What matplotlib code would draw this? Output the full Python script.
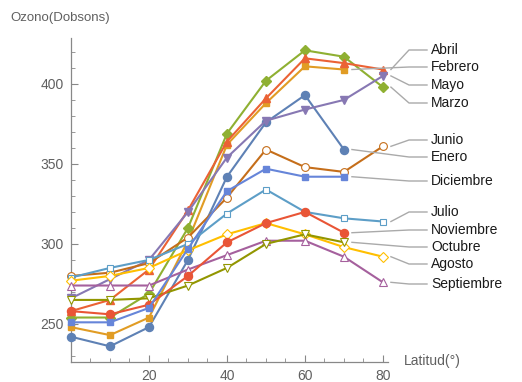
import matplotlib
matplotlib.use("Agg")
import matplotlib.pyplot as plt
from matplotlib.lines import Line2D

plt.rcParams['font.family'] = ['Liberation Sans', 'DejaVu Sans']

latitudes = [0, 10, 20, 30, 40, 50, 60, 70, 80]

months = ["Enero", "Febrero", "Marzo", "Abril", "Mayo", "Junio", "Julio",
          "Agosto", "Septiembre", "Octubre", "Noviembre", "Diciembre"]

enero = [242, 236, 248, 290, 342, 376, 393, 359]
febrero = [248, 243, 254, 302, 362, 388, 411, 409]
marzo = [254, 254, 269, 310, 369, 402, 421, 417, 398]
abril = [258, 265, 284, 321, 364, 391, 416, 413, 409]
mayo = [266, 278, 290, 320, 354, 377, 384, 390, 405]
junio = [280, 282, 288, 304, 329, 359, 348, 345, 361]
julio = [279, 285, 290, 300, 319, 334, 320, 316, 314]
agosto = [277, 280, 285, 296, 306, 313, 306, 298, 292]
septiembre = [274, 274, 274, 284, 293, 302, 302, 292, 276]
octubre = [265, 265, 266, 274, 285, 300, 306, 301]
noviembre = [258, 256, 262, 280, 301, 313, 320, 307]
diciembre = [251, 251, 260, 297, 333, 347, 342, 342]

series = [enero, febrero, marzo, abril, mayo, junio, julio,
          agosto, septiembre, octubre, noviembre, diciembre]

colors = ["#5E81B5", "#E19C24", "#8FB032", "#EB6235", "#8778B3", "#C56E1A",
          "#5D9EC7", "#FFBF00", "#A5609D", "#929600", "#E95536", "#6685D9"]
markers = ["o", "s", "D", "^", "v", "o", "s", "D", "^", "v", "o", "s"]
filled = [True, True, True, True, True, False, False, False, False, False, True, True]
msizes = [5.8, 4.8, 4.6, 5.6, 5.6, 5.6, 4.8, 4.6, 5.6, 5.6, 5.8, 4.8]

# label vertical positions (pixels from top) for the callouts
label_order = ["Abril", "Febrero", "Mayo", "Marzo", "Junio", "Enero", "Diciembre",
               "Julio", "Noviembre", "Octubre", "Agosto", "Septiembre"]
label_y_px = [50, 67, 85, 103, 140, 157, 181, 212, 230, 247, 264, 284]

W, H = 522, 382
fig = plt.figure(figsize=(W / 100, H / 100), dpi=100)
ax = fig.add_axes([71 / W, 1 - 362 / H, (388 - 71) / W, (362 - 38) / H])

for vals, c, m, f, ms in zip(series, colors, markers, filled, msizes):
    x = latitudes[:len(vals)]
    ax.plot(x, vals, color=c, lw=1.5, marker=m, ms=ms,
            markerfacecolor=c if f else "white", markeredgecolor=c,
            markeredgewidth=1.0 if f else 0.8, zorder=3, clip_on=False)

ax.set_xlim(0, 81.3)
ax.set_ylim(226.2, 428.7)
ax.spines['top'].set_visible(False)
ax.spines['right'].set_visible(False)
for s in ('left', 'bottom'):
    ax.spines[s].set_color('#888888')
    ax.spines[s].set_linewidth(0.9)

ax.set_xticks([20, 40, 60, 80])
ax.set_xticks([5, 10, 15, 25, 30, 35, 45, 50, 55, 65, 70, 75], minor=True)
ax.set_yticks([250, 300, 350, 400])
ax.set_yticks([230, 240, 260, 270, 280, 290, 310, 320, 330, 340, 360, 370, 380,
               390, 410, 420], minor=True)
ax.tick_params(which='major', direction='in', length=5, width=0.8, color='#888888',
               labelcolor='#606060', labelsize=10, pad=5)
ax.tick_params(which='minor', direction='in', length=3, width=0.6, color='#888888')
ax.set_facecolor('white')

fig.text(10 / W, 1 - 18 / H, "Ozono(Dobsons)", fontsize=9.5, color='#606060',
         ha='left', va='center')
fig.text(404 / W, 1 - 361 / H, "Latitud(°)", fontsize=10, color='#606060',
         ha='left', va='center')

fig.canvas.draw()
label_x = 431
for name, ly in zip(label_order, label_y_px):
    idx = months.index(name)
    vals = series[idx]
    px, py = ax.transData.transform((latitudes[len(vals) - 1], vals[-1]))
    ly_disp = H - ly
    p0 = (px + 8, py)
    p1 = (label_x - 22, ly_disp)
    p2 = (label_x - 4, ly_disp)
    line = Line2D([p0[0], p1[0], p2[0]], [p0[1], p1[1], p2[1]],
                  color='#aaaaaa', lw=1.0, transform=None)
    fig.add_artist(line)
    fig.text(label_x / W, ly_disp / H, name, fontsize=10, color='#1a1a1a',
             ha='left', va='center')

fig.savefig("out.png", dpi=100, facecolor='white')
